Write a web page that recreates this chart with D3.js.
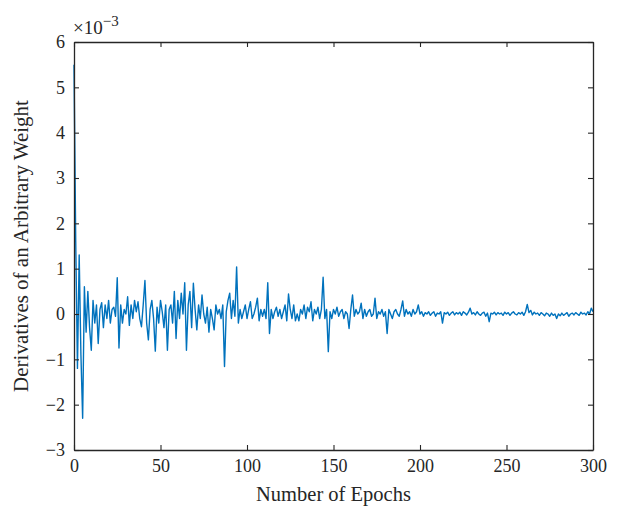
<!DOCTYPE html>
<html><head><meta charset="utf-8">
<script src="https://cdn.jsdelivr.net/npm/d3@7"></script>
<style>body{margin:0;background:#fff}svg{display:block}text{font-family:"Liberation Serif","DejaVu Serif",serif;fill:#262626}</style>
</head><body><svg id="c" width="622" height="525"></svg>
<script>
// derivative values in units of 1e-3, one per epoch 0..300
const derivs = [
5.5,1.6,-1.2,1.3,-0.9,-2.3,0.6,-0.4,0.5,-0.3,
-0.8,0.3,-0.2,0.2,-0.65,0.1,0.25,-0.3,0.2,-0.1,
0.3,-0.2,0.1,0.15,-0.05,0.8,-0.75,0.2,-0.2,0.1,
0.0,0.38,-0.25,0.2,-0.1,0.3,0.05,0.27,-0.1,-0.28,
0.2,0.74,-0.2,-0.57,0.1,0.3,-0.1,-0.82,0.15,-0.2,
0.3,0.05,-0.3,0.2,-0.8,0.1,0.2,-0.2,0.5,-0.54,
0.3,-0.1,0.46,0.0,0.69,-0.8,0.2,0.5,-0.3,0.68,
0.1,-0.35,0.2,-0.1,0.42,0.0,-0.2,0.15,-0.4,0.1,
-0.1,-0.35,0.2,0.0,0.1,-0.1,0.2,-1.16,0.05,0.3,
0.46,-0.1,0.3,-0.05,1.04,-0.2,0.1,-0.1,0.05,0.2,
-0.1,0.1,0.27,-0.1,0.0,0.15,0.35,-0.15,0.1,-0.05,
0.1,-0.1,0.69,-0.43,0.1,-0.1,0.05,0.15,-0.05,0.1,
-0.1,0.05,0.2,-0.15,0.44,0.1,-0.1,0.2,-0.15,0.0,
-0.15,0.1,0.0,0.2,-0.1,0.15,0.05,0.27,-0.15,0.1,
0.0,0.15,-0.1,0.1,0.81,-0.1,0.1,-0.83,0.05,-0.1,
0.1,0.0,0.15,-0.05,0.05,0.1,-0.1,0.05,0.0,-0.32,
0.1,0.42,-0.05,0.1,0.0,0.05,0.24,-0.1,0.1,-0.05,
0.05,0.1,-0.05,0.0,0.35,-0.1,0.05,0.0,0.1,-0.05,
0.05,-0.43,0.1,0.0,-0.1,0.05,0.1,0.0,-0.05,0.1,
0.29,-0.05,0.1,0.0,0.05,-0.05,0.1,0.0,0.05,0.2,
0.0,0.05,-0.05,0.03,0.0,0.05,-0.03,0.02,0.05,-0.05,
0.02,0.0,0.05,-0.2,0.03,0.0,0.04,-0.03,0.02,0.05,
-0.02,0.03,0.0,0.04,-0.03,0.05,0.02,-0.02,0.04,0.13,
0.0,0.03,-0.02,0.05,0.0,-0.03,0.02,0.04,-0.05,0.02,
-0.17,0.02,0.0,0.04,-0.02,0.03,0.0,0.02,-0.03,0.04,
0.0,0.03,-0.03,0.02,0.05,0.0,-0.02,0.03,0.0,0.04,
-0.03,0.05,0.21,0.03,0.08,-0.02,0.04,0.0,0.02,-0.03,
0.03,0.0,-0.04,0.02,0.0,-0.05,0.02,-0.03,0.0,-0.1,
0.0,-0.04,0.02,-0.03,0.0,0.03,-0.05,0.0,0.02,-0.02,
0.03,0.0,-0.03,0.04,0.0,0.02,-0.02,0.05,0.0,0.13,
0.05];
const xTicks = [0,50,100,150,200,250,300];
const yTicks = [-3,-2,-1,0,1,2,3,4,5,6];
const xLabel = "Number of Epochs";
const yLabel = "Derivatives of an Arbitrary Weight";

const L=74,R=593,T=42,B=450;
const svg=d3.select("#c");
const x=d3.scaleLinear().domain([0,300]).range([L,R]);
const y=d3.scaleLinear().domain([-3,6]).range([B,T]);
const ax="#262626";
const fs=18;

// line
svg.append("path").datum(derivs)
  .attr("fill","none").attr("stroke","#0072BD").attr("stroke-width",1.4).attr("stroke-linejoin","round")
  .attr("d",d3.line().x((d,i)=>x(i)).y(d=>y(d)));

// axes (ticks inward, mirrored)
const tl=5;
const gB=svg.append("g").attr("transform",`translate(0,${B})`)
  .call(d3.axisBottom(x).tickValues(xTicks).tickSizeInner(-tl).tickSizeOuter(0).tickPadding(9));
const gT=svg.append("g").attr("transform",`translate(0,${T})`)
  .call(d3.axisTop(x).tickValues(xTicks).tickSizeInner(-tl).tickSizeOuter(0).tickFormat(""));
const gL=svg.append("g").attr("transform",`translate(${L},0)`)
  .call(d3.axisLeft(y).tickValues(yTicks).tickSizeInner(-tl).tickSizeOuter(0).tickPadding(9).tickFormat(d=>d<0?"\u2212"+(-d):d));
const gR=svg.append("g").attr("transform",`translate(${R},0)`)
  .call(d3.axisRight(y).tickValues(yTicks).tickSizeInner(-tl).tickSizeOuter(0).tickFormat(""));
[gB,gT,gL,gR].forEach(g=>{
  g.select(".domain").attr("stroke",ax).attr("stroke-width",1.3);
  g.selectAll(".tick line").attr("stroke",ax).attr("stroke-width",1.1);
  g.selectAll(".tick text").attr("font-size",fs).attr("font-family",'"Liberation Serif",serif').attr("fill",ax);
});

// exponent
const ex=svg.append("text").attr("x",L-1).attr("y",34).attr("font-size",19);
ex.append("tspan").text("\u00d710");
ex.append("tspan").attr("dy",-8).attr("font-size",15).text("\u22123");

// labels
svg.append("text").attr("x",(L+R)/2).attr("y",501).attr("text-anchor","middle").attr("font-size",20.5).text(xLabel);
svg.append("text").attr("transform",`translate(28,${(T+B)/2}) rotate(-90)`).attr("text-anchor","middle").attr("font-size",21).text(yLabel);
</script></body></html>
